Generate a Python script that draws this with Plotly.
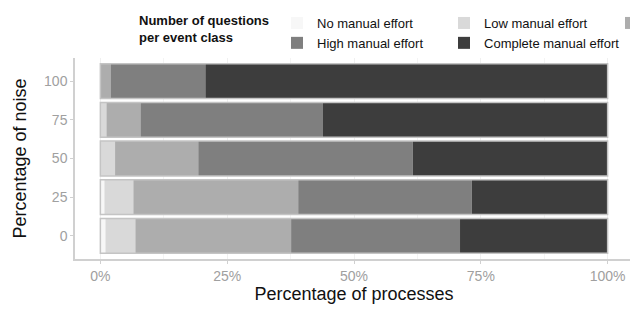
import plotly.graph_objects as go

noise_levels = ["0", "25", "50", "75", "100"]
categories = ["No manual effort", "Low manual effort", "Medium manual effort",
              "High manual effort", "Complete manual effort"]
# percentage of processes per category, for noise levels 0,25,50,75,100
no_manual = [1.0, 0.8, 0.0, 0.0, 0.0]
low_manual = [5.9, 5.7, 2.9, 1.2, 0.0]
medium_manual = [30.7, 32.5, 16.4, 6.7, 2.0]
high_manual = [33.3, 34.2, 42.3, 35.9, 18.7]
complete_manual = [29.1, 26.8, 38.4, 56.2, 79.3]
totals = [100, 100, 100, 100, 100]
x_ticks = [0, 25, 50, 75, 100]
x_tick_labels = ["0%", "25%", "50%", "75%", "100%"]
legend_title = "Number of questions<br>per event class"

series = [no_manual, low_manual, medium_manual, high_manual, complete_manual]
colors = ["#f7f7f7", "#d9d9d9", "#adadad", "#7f7f7f", "#3d3d3d"]

fig = go.Figure()
bases = [0.0] * len(noise_levels)
for name, vals, col in zip(categories, series, colors):
    fig.add_trace(go.Bar(
        y=noise_levels, x=vals, base=list(bases), name=name, orientation="h",
        marker=dict(color=col, line=dict(width=0)), width=0.9,
    ))
    bases = [b + v for b, v in zip(bases, vals)]

# light grey outline around each whole bar
fig.add_trace(go.Bar(
    y=noise_levels, x=totals, base=[0] * len(totals), orientation="h", width=0.9,
    marker=dict(color="rgba(0,0,0,0)", line=dict(color="#c4c4c4", width=1.5)),
    showlegend=False, hoverinfo="skip",
))

# the page body adds an 8px margin, so the figure is 8px smaller than the window
font_family = "Liberation Sans, Arial, sans-serif"
fig.update_layout(
    width=630, height=305,
    margin=dict(l=67, r=5, t=50, b=54, autoexpand=False),
    barmode="overlay",
    bargap=0.1,
    plot_bgcolor="white", paper_bgcolor="white",
    font=dict(family=font_family, color="#222222"),
    xaxis=dict(
        range=[-5, 105], tickvals=x_ticks, ticktext=x_tick_labels,
        tickfont=dict(size=14, color="#a0a0a0"),
        showgrid=True, gridcolor="#f0f0f0", gridwidth=1,
        minor=dict(dtick=12.5, tick0=0, showgrid=True, gridcolor="#f4f4f4", gridwidth=1),
        showline=True, linecolor="#d0d0d0", linewidth=1.5,
        ticks="outside", ticklen=3, tickcolor="#d0d0d0",
        zeroline=False,
        title=dict(text="Percentage of processes", font=dict(size=18, color="#111111"), standoff=5),
    ),
    yaxis=dict(
        categoryorder="array", categoryarray=noise_levels,
        tickfont=dict(size=14, color="#a0a0a0"),
        showgrid=False,
        showline=True, linecolor="#d0d0d0", linewidth=1.5,
        ticks="outside", ticklen=3, tickcolor="#d0d0d0",
        title=dict(text="Percentage of noise", font=dict(size=18, color="#111111"), standoff=13),
        range=[-0.6, 4.6],
    ),
    legend=dict(
        orientation="h", xref="container", x=129 / 630, xanchor="left",
        yref="container", y=1.0, yanchor="top",
        title=dict(text="<b>" + legend_title + "</b>", side="left",
                   font=dict(size=13, color="#111111")),
        font=dict(size=13, color="#111111"),
        entrywidth=122, entrywidthmode="pixels",
        itemwidth=30, traceorder="normal", tracegroupgap=0,
        bgcolor="rgba(0,0,0,0)",
    ),
)

fig.write_html("out.html")
